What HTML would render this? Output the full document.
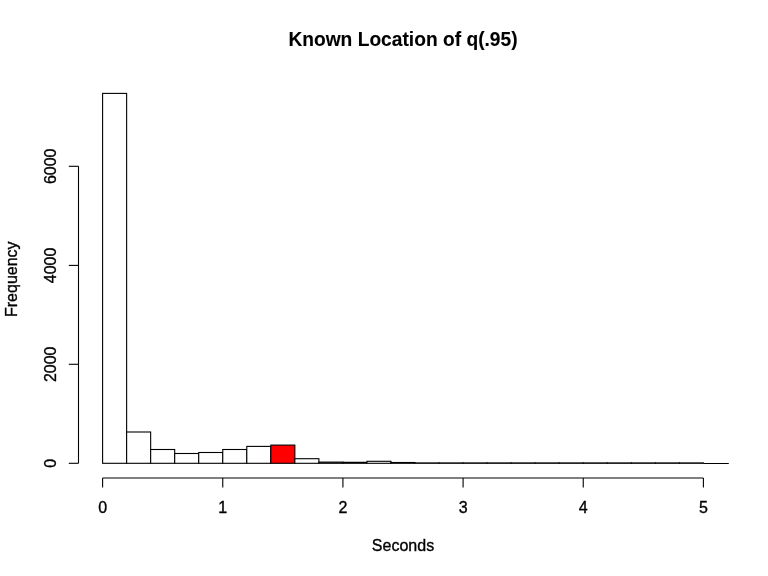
<!DOCTYPE html>
<html><head><meta charset="utf-8"><style>
html,body{margin:0;padding:0;background:#fff;}
svg{display:block;will-change:transform;}
text{font-family:"Liberation Sans", sans-serif;font-size:16px;fill:#000;stroke:#000;stroke-width:0.35px;}
</style></head><body>
<svg width="768" height="576" viewBox="0 0 768 576">
<rect width="768" height="576" fill="#fff"/>
<text transform="translate(403 45.6) scale(1 1.04)" text-anchor="middle" style="font-weight:bold;font-size:19.2px;stroke-width:0.1px">Known Location of q(.95)</text>
<defs><clipPath id="c"><rect x="78.6" y="78.6" width="651" height="399.5"/></clipPath></defs>
<g clip-path="url(#c)">
<rect x="102.60" y="93.40" width="24.03" height="369.90" fill="white" stroke="#000" stroke-width="1.1"/>
<rect x="126.63" y="432.00" width="24.03" height="31.30" fill="white" stroke="#000" stroke-width="1.1"/>
<rect x="150.66" y="449.50" width="24.03" height="13.80" fill="white" stroke="#000" stroke-width="1.1"/>
<rect x="174.70" y="453.50" width="24.03" height="9.80" fill="white" stroke="#000" stroke-width="1.1"/>
<rect x="198.73" y="452.50" width="24.03" height="10.80" fill="white" stroke="#000" stroke-width="1.1"/>
<rect x="222.76" y="449.50" width="24.03" height="13.80" fill="white" stroke="#000" stroke-width="1.1"/>
<rect x="246.79" y="446.40" width="24.03" height="16.90" fill="white" stroke="#000" stroke-width="1.1"/>
<rect x="270.82" y="445.10" width="24.03" height="18.20" fill="#ff0000" stroke="#000" stroke-width="1.1"/>
<rect x="294.86" y="458.70" width="24.03" height="4.60" fill="white" stroke="#000" stroke-width="1.1"/>
<rect x="318.89" y="462.10" width="24.03" height="1.20" fill="white" stroke="#000" stroke-width="1.1"/>
<rect x="342.92" y="462.30" width="24.03" height="1.00" fill="white" stroke="#000" stroke-width="1.1"/>
<rect x="366.95" y="461.30" width="24.03" height="2.00" fill="white" stroke="#000" stroke-width="1.1"/>
<rect x="390.98" y="462.50" width="24.03" height="0.80" fill="white" stroke="#000" stroke-width="1.1"/>
<rect x="415.02" y="462.90" width="24.03" height="0.40" fill="white" stroke="#000" stroke-width="1.1"/>
<rect x="439.05" y="462.90" width="24.03" height="0.40" fill="white" stroke="#000" stroke-width="1.1"/>
<rect x="463.08" y="462.90" width="24.03" height="0.40" fill="white" stroke="#000" stroke-width="1.1"/>
<rect x="487.11" y="462.90" width="24.03" height="0.40" fill="white" stroke="#000" stroke-width="1.1"/>
<rect x="511.14" y="462.90" width="24.03" height="0.40" fill="white" stroke="#000" stroke-width="1.1"/>
<rect x="535.18" y="462.90" width="24.03" height="0.40" fill="white" stroke="#000" stroke-width="1.1"/>
<rect x="559.21" y="462.90" width="24.03" height="0.40" fill="white" stroke="#000" stroke-width="1.1"/>
<rect x="583.24" y="462.90" width="24.03" height="0.40" fill="white" stroke="#000" stroke-width="1.1"/>
<rect x="607.27" y="462.90" width="24.03" height="0.40" fill="white" stroke="#000" stroke-width="1.1"/>
<rect x="631.30" y="462.90" width="24.03" height="0.40" fill="white" stroke="#000" stroke-width="1.1"/>
<rect x="655.34" y="462.90" width="24.03" height="0.40" fill="white" stroke="#000" stroke-width="1.1"/>
<rect x="679.37" y="462.90" width="24.03" height="0.40" fill="white" stroke="#000" stroke-width="1.1"/>
<line x1="703.40" y1="463.5" x2="728.8" y2="463.5" stroke="#000" stroke-width="1.1"/>
</g>
<g stroke="#000" stroke-width="1.1" fill="none">
<line x1="78.5" y1="166.3" x2="78.5" y2="463.3"/>
<line x1="68.8" y1="463.3" x2="78.5" y2="463.3"/>
<line x1="68.8" y1="364.3" x2="78.5" y2="364.3"/>
<line x1="68.8" y1="265.4" x2="78.5" y2="265.4"/>
<line x1="68.8" y1="166.3" x2="78.5" y2="166.3"/>
<line x1="102.6" y1="478" x2="703.40" y2="478"/>
<line x1="102.60" y1="478" x2="102.60" y2="487.6"/>
<line x1="222.76" y1="478" x2="222.76" y2="487.6"/>
<line x1="342.92" y1="478" x2="342.92" y2="487.6"/>
<line x1="463.08" y1="478" x2="463.08" y2="487.6"/>
<line x1="583.24" y1="478" x2="583.24" y2="487.6"/>
<line x1="703.40" y1="478" x2="703.40" y2="487.6"/>
</g>
<text transform="translate(55.6 463.3) rotate(-90)" text-anchor="middle">0</text>
<text transform="translate(55.6 364.3) rotate(-90)" text-anchor="middle">2000</text>
<text transform="translate(55.6 265.4) rotate(-90)" text-anchor="middle">4000</text>
<text transform="translate(55.6 166.3) rotate(-90)" text-anchor="middle">6000</text>
<text x="102.60" y="512.6" text-anchor="middle">0</text>
<text x="222.76" y="512.6" text-anchor="middle">1</text>
<text x="342.92" y="512.6" text-anchor="middle">2</text>
<text x="463.08" y="512.6" text-anchor="middle">3</text>
<text x="583.24" y="512.6" text-anchor="middle">4</text>
<text x="703.40" y="512.6" text-anchor="middle">5</text>
<text transform="translate(17.2 279.2) rotate(-90)" text-anchor="middle">Frequency</text>
<text x="403" y="550.5" text-anchor="middle">Seconds</text>
</svg>
</body></html>
